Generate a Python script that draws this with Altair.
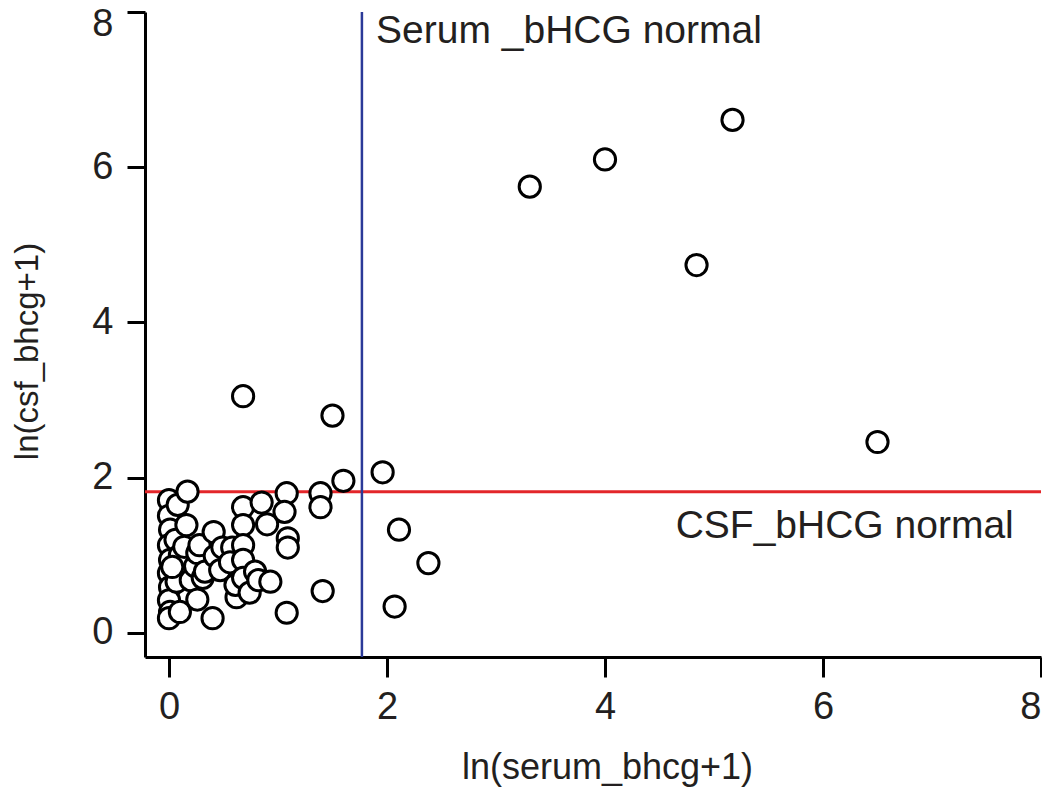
import altair as alt
import pandas as pd

serum = [0.0, 0.0, 0.01, 0.0, 0.01, 0.0, 0.01, 0.0, 0.01, 0.0,
         0.08, 0.06, 0.10, 0.07, 0.10, 0.03,
         0.17, 0.16, 0.20, 0.14, 0.24,
         0.26, 0.26, 0.31, 0.33, 0.28,
         0.41, 0.42, 0.40, 0.47, 0.49,
         0.58, 0.62, 0.56, 0.61,
         0.68, 0.68, 0.68, 0.68, 0.68, 0.68,
         0.74, 0.79, 0.85, 0.82,
         0.90, 0.93,
         1.08, 1.06, 1.09, 1.09, 1.08,
         1.39, 1.39, 1.41,
         1.50, 1.60, 1.96, 2.11, 2.38, 2.07,
         3.31, 4.00, 5.17, 4.84, 6.50]
csf = [1.71, 1.51, 1.33, 1.13, 0.94, 0.77, 0.59, 0.42, 0.27, 0.19,
       1.65, 1.20, 1.00, 0.66, 0.27, 0.85,
       1.82, 1.39, 0.68, 1.11, 0.86,
       1.03, 0.43, 0.71, 0.79, 1.13,
       1.30, 0.99, 0.19, 0.81, 1.10,
       1.10, 0.46, 0.91, 0.62,
       1.62, 1.39, 1.13, 0.94, 0.71, 3.05,
       0.52, 0.79, 1.68, 0.68,
       1.40, 0.66,
       1.80, 1.56, 1.22, 1.10, 0.26,
       1.80, 1.62, 0.54,
       2.80, 1.96, 2.07, 1.33, 0.90, 0.34,
       5.75, 6.10, 6.61, 4.74, 2.46]

serum_normal = [1.77]
csf_normal = [1.82]
ticks = [0, 2, 4, 6, 8]

labels_text = ["Serum _bHCG normal", "CSF_bHCG normal"]
labels_x = [1.90, 7.75]
labels_y = [7.60, 1.22]

pts = pd.DataFrame({"serum": serum, "csf": csf})

FONT = "Liberation Sans"
xs = alt.Scale(domain=[-0.22, 8], nice=False, zero=False)
ys = alt.Scale(domain=[-0.31, 8], nice=False, zero=False)

xax = alt.Axis(values=ticks, format="d", title="ln(serum_bhcg+1)",
               titlePadding=24, labelPadding=11, tickSize=20, titleFontSize=36,
               titleX=462)
yax = alt.Axis(values=ticks, format="d", title="ln(csf_bhcg+1)",
               titlePadding=47, labelPadding=14, tickSize=18, titleFontSize=33,
               titleY=339, labelFlush=True, labelFlushOffset=7)

points = alt.Chart(pts).mark_point(
    shape="circle", size=450, filled=True, fill="white", stroke="black",
    strokeWidth=3, opacity=1, fillOpacity=1
).encode(
    x=alt.X("serum:Q", scale=xs, axis=xax),
    y=alt.Y("csf:Q", scale=ys, axis=yax),
)

vline = alt.Chart(pd.DataFrame({"x": serum_normal})).mark_rule(
    color="#2B3A98", strokeWidth=2.5
).encode(x=alt.X("x:Q", scale=xs))

hline = alt.Chart(pd.DataFrame({"y": csf_normal})).mark_rule(
    color="#E3262A", strokeWidth=3
).encode(y=alt.Y("y:Q", scale=ys))

lab = pd.DataFrame({"t": labels_text, "x": labels_x, "y": labels_y})
text1 = alt.Chart(lab.iloc[[0]]).mark_text(
    align="left", baseline="alphabetic", font=FONT, fontSize=39, color="#231F20"
).encode(x=alt.X("x:Q", scale=xs), y=alt.Y("y:Q", scale=ys), text="t:N")
text2 = alt.Chart(lab.iloc[[1]]).mark_text(
    align="right", baseline="alphabetic", font=FONT, fontSize=39, color="#231F20"
).encode(x=alt.X("x:Q", scale=xs), y=alt.Y("y:Q", scale=ys), text="t:N")

chart = alt.layer(hline, vline, points, text1, text2).properties(
    width=896, height=645,
    autosize=alt.AutoSizeParams(type="none"),
    padding={"left": 137, "top": 4, "right": 1, "bottom": 131},
).configure_view(stroke=None).configure_axis(
    grid=False, domainColor="black", domainWidth=3, tickColor="black",
    tickWidth=3, labelFont=FONT, labelFontSize=38,
    labelColor="#231F20", titleFont=FONT,
    titleFontWeight="normal", titleColor="#231F20"
)

chart.save("out.html", embed_options={"renderer": "svg", "actions": False})
